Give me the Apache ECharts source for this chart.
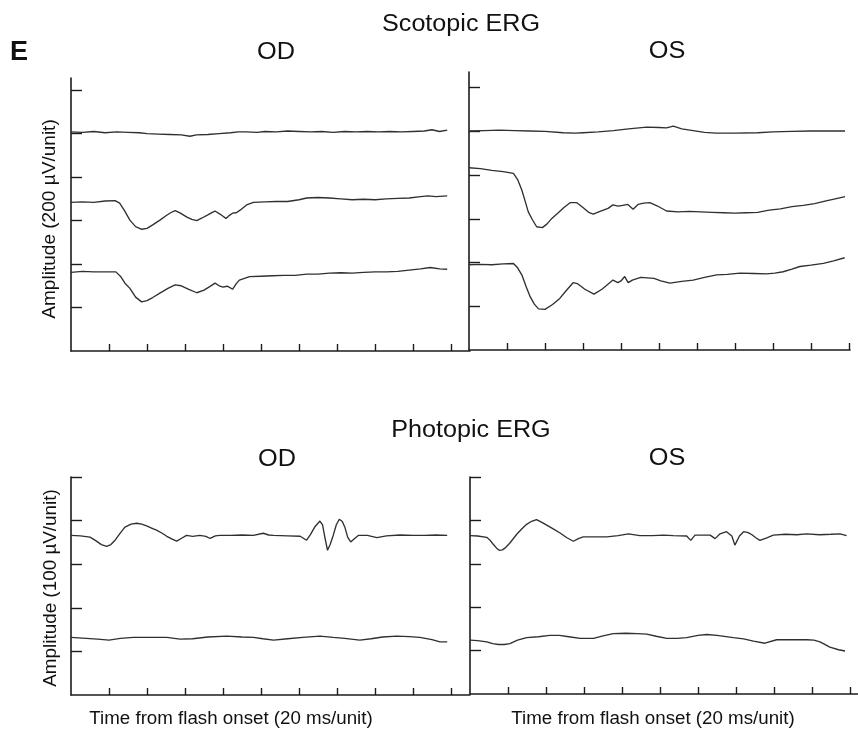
<!DOCTYPE html>
<html>
<head>
<meta charset="utf-8">
<script src="https://cdn.jsdelivr.net/npm/echarts@6/dist/echarts.min.js"></script>
<style>html,body{margin:0;padding:0;background:#fff}#c{width:858px;height:732px}</style>
</head>
<body>
<div id="c"></div>
<script>
// ---- Data (x in 20 ms units, y in amplitude units) ----
const xTicks = [1,2,3,4,5,6,7,8,9,10];
const scotYTicks = [1,2,3,4,5,6];
const photYTicks = [1,2,3,4,5];

const scotOD1 = [[0,5.04],[0.3,5.03],[0.6,5.05],[0.9,5.02],[1.2,5.04],[1.5,5.03],[1.8,5.02],[2.0,5.0],[2.3,4.99],[2.6,4.98],[2.9,4.97],[3.13,4.94],[3.3,4.97],[3.6,4.98],[3.9,5.0],[4.2,5.02],[4.4,5.04],[4.6,5.04],[4.9,5.03],[5.1,5.05],[5.4,5.04],[5.7,5.06],[6.0,5.05],[6.3,5.04],[6.6,5.05],[6.9,5.03],[7.2,5.05],[7.5,5.04],[7.8,5.05],[8.1,5.04],[8.4,5.05],[8.7,5.04],[9.0,5.05],[9.3,5.06],[9.5,5.09],[9.7,5.05],[9.9,5.08]];
const scotOD2 = [[0,3.42],[0.3,3.43],[0.6,3.42],[0.9,3.45],[1.16,3.46],[1.28,3.40],[1.4,3.24],[1.55,3.01],[1.7,2.86],[1.86,2.80],[2.0,2.82],[2.15,2.90],[2.34,3.01],[2.5,3.11],[2.62,3.18],[2.74,3.23],[2.88,3.17],[3.05,3.08],[3.18,3.03],[3.31,3.00],[3.45,3.06],[3.6,3.13],[3.72,3.19],[3.79,3.22],[3.92,3.15],[4.0,3.10],[4.08,3.05],[4.17,3.12],[4.25,3.17],[4.35,3.18],[4.45,3.24],[4.62,3.36],[4.8,3.42],[5.1,3.43],[5.4,3.44],[5.7,3.44],[6.0,3.48],[6.2,3.52],[6.5,3.53],[6.8,3.52],[7.1,3.50],[7.4,3.48],[7.7,3.49],[8.0,3.48],[8.3,3.50],[8.6,3.51],[8.9,3.52],[9.2,3.55],[9.4,3.57],[9.6,3.55],[9.9,3.57]];
const scotOD3 = [[0,1.81],[0.3,1.83],[0.6,1.82],[0.9,1.82],[1.18,1.82],[1.3,1.72],[1.42,1.56],[1.55,1.44],[1.7,1.24],[1.86,1.13],[2.0,1.16],[2.15,1.23],[2.34,1.33],[2.55,1.44],[2.74,1.52],[2.9,1.50],[3.1,1.42],[3.31,1.34],[3.5,1.40],[3.65,1.48],[3.79,1.56],[3.9,1.50],[4.0,1.47],[4.11,1.49],[4.18,1.46],[4.25,1.42],[4.35,1.55],[4.43,1.63],[4.7,1.71],[5.0,1.72],[5.3,1.73],[5.6,1.74],[5.9,1.74],[6.2,1.77],[6.5,1.77],[6.8,1.79],[7.1,1.80],[7.4,1.79],[7.7,1.81],[8.0,1.82],[8.3,1.82],[8.6,1.83],[8.9,1.86],[9.2,1.89],[9.45,1.92],[9.7,1.89],[9.9,1.88]];

const scotOS1 = [[0,5.01],[0.4,5.02],[0.8,5.03],[1.2,5.02],[1.6,5.01],[2.0,5.0],[2.48,4.97],[2.8,4.96],[3.0,4.97],[3.4,4.99],[3.8,5.02],[4.2,5.06],[4.68,5.10],[5.0,5.09],[5.2,5.08],[5.38,5.12],[5.6,5.06],[5.9,5.02],[6.2,4.98],[6.5,4.96],[7.0,4.96],[7.6,4.97],[8.0,4.99],[8.5,5.0],[9.0,5.01],[9.5,5.01],[9.9,5.01]];
const scotOS2 = [[0,4.17],[0.3,4.15],[0.6,4.11],[0.9,4.08],[1.17,4.04],[1.28,3.90],[1.39,3.66],[1.48,3.40],[1.56,3.16],[1.67,2.98],[1.78,2.82],[1.93,2.80],[2.05,2.88],[2.18,3.01],[2.35,3.14],[2.5,3.26],[2.66,3.37],[2.84,3.37],[3.0,3.26],[3.15,3.15],[3.27,3.11],[3.45,3.17],[3.66,3.24],[3.79,3.32],[3.92,3.29],[4.05,3.31],[4.18,3.33],[4.32,3.22],[4.45,3.33],[4.6,3.36],[4.76,3.37],[4.95,3.30],[5.2,3.18],[5.5,3.16],[5.8,3.17],[6.1,3.16],[6.4,3.15],[6.7,3.14],[7.0,3.13],[7.3,3.14],[7.6,3.15],[7.9,3.20],[8.2,3.23],[8.5,3.28],[8.8,3.31],[9.1,3.35],[9.4,3.41],[9.7,3.47],[9.9,3.51]];
const scotOS3 = [[0,1.95],[0.3,1.96],[0.6,1.95],[0.9,1.97],[1.17,1.98],[1.28,1.88],[1.39,1.72],[1.5,1.46],[1.61,1.22],[1.72,1.05],[1.83,0.94],[2.0,0.93],[2.2,1.04],[2.39,1.18],[2.55,1.35],[2.74,1.54],[2.85,1.52],[3.05,1.39],[3.29,1.28],[3.5,1.39],[3.65,1.50],[3.79,1.60],[3.92,1.54],[4.0,1.58],[4.1,1.68],[4.19,1.54],[4.3,1.60],[4.52,1.66],[4.87,1.64],[5.05,1.58],[5.29,1.53],[5.6,1.57],[5.9,1.60],[6.2,1.66],[6.52,1.72],[6.8,1.73],[7.13,1.76],[7.5,1.75],[7.83,1.74],[8.05,1.76],[8.27,1.79],[8.5,1.85],[8.71,1.91],[9.0,1.94],[9.33,1.98],[9.6,2.04],[9.89,2.11]];

const photOD1 = [[0,3.66],[0.25,3.65],[0.5,3.62],[0.65,3.54],[0.8,3.45],[0.94,3.41],[1.05,3.45],[1.16,3.55],[1.3,3.72],[1.42,3.85],[1.58,3.92],[1.73,3.94],[1.86,3.92],[1.99,3.88],[2.12,3.83],[2.25,3.78],[2.4,3.71],[2.52,3.64],[2.65,3.58],[2.78,3.53],[2.9,3.59],[3.04,3.66],[3.2,3.64],[3.39,3.66],[3.55,3.64],[3.66,3.59],[3.8,3.65],[3.92,3.66],[4.2,3.66],[4.5,3.67],[4.8,3.66],[5.06,3.71],[5.2,3.67],[5.33,3.66],[5.7,3.65],[6.03,3.64],[6.2,3.55],[6.3,3.68],[6.42,3.86],[6.55,3.99],[6.62,3.90],[6.68,3.62],[6.75,3.32],[6.82,3.45],[6.9,3.66],[6.98,3.90],[7.06,4.03],[7.14,3.98],[7.21,3.84],[7.28,3.62],[7.36,3.51],[7.45,3.58],[7.56,3.66],[7.8,3.66],[8.05,3.61],[8.3,3.65],[8.66,3.67],[9.0,3.66],[9.3,3.66],[9.6,3.67],[9.9,3.66]];
const photOD2 = [[0,1.32],[0.4,1.30],[0.7,1.28],[1.0,1.26],[1.3,1.30],[1.64,1.32],[2.0,1.32],[2.52,1.32],[2.87,1.28],[3.2,1.29],[3.6,1.33],[4.1,1.35],[4.5,1.33],[4.8,1.32],[5.05,1.29],[5.33,1.26],[5.7,1.29],[6.1,1.32],[6.55,1.35],[6.9,1.32],[7.2,1.30],[7.6,1.26],[7.9,1.29],[8.2,1.33],[8.57,1.35],[8.9,1.34],[9.18,1.32],[9.5,1.27],[9.71,1.22],[9.9,1.22]];

const photOS1 = [[0,3.65],[0.2,3.64],[0.44,3.61],[0.52,3.55],[0.61,3.45],[0.7,3.36],[0.77,3.31],[0.85,3.32],[0.92,3.36],[1.05,3.48],[1.23,3.68],[1.36,3.80],[1.49,3.91],[1.62,3.98],[1.75,4.02],[1.88,3.96],[2.02,3.89],[2.2,3.80],[2.37,3.71],[2.55,3.60],[2.72,3.52],[2.85,3.58],[2.98,3.62],[3.3,3.62],[3.6,3.62],[3.9,3.65],[4.17,3.69],[4.47,3.65],[4.8,3.65],[5.1,3.66],[5.35,3.65],[5.7,3.64],[5.81,3.54],[5.92,3.66],[6.1,3.66],[6.32,3.66],[6.45,3.58],[6.58,3.69],[6.75,3.74],[6.89,3.64],[6.97,3.43],[7.09,3.64],[7.2,3.74],[7.32,3.72],[7.42,3.67],[7.52,3.60],[7.63,3.54],[7.81,3.60],[7.98,3.66],[8.3,3.68],[8.6,3.67],[8.86,3.69],[9.2,3.67],[9.5,3.68],[9.74,3.69],[9.91,3.65]];
const photOS2 = [[0,1.24],[0.2,1.23],[0.44,1.20],[0.6,1.16],[0.75,1.14],[0.9,1.14],[1.05,1.16],[1.25,1.24],[1.49,1.30],[1.8,1.32],[2.1,1.35],[2.35,1.35],[2.6,1.32],[2.9,1.28],[3.25,1.28],[3.5,1.34],[3.77,1.39],[4.1,1.40],[4.4,1.39],[4.65,1.38],[4.9,1.33],[5.18,1.28],[5.45,1.28],[5.7,1.30],[6.0,1.35],[6.23,1.37],[6.5,1.35],[6.93,1.30],[7.2,1.27],[7.46,1.22],[7.76,1.17],[8.07,1.25],[8.4,1.25],[8.86,1.25],[9.05,1.24],[9.21,1.20],[9.47,1.08],[9.7,1.02],[9.87,0.99]];

// ---- Chart ----
const chart = echarts.init(document.getElementById('c'), null, {renderer: 'canvas'});
const AX = '#1c1c1c';
const TR = '#303030';
const FONT = '"Liberation Sans", Arial, sans-serif';

const grids = [
  {left: 71, top: 78, width: 399, height: 273},
  {left: 469, top: 72, width: 381, height: 278},
  {left: 71, top: 477, width: 399, height: 218},
  {left: 470, top: 477, width: 388, height: 217}
];
const xMax = [10.5, 10.03, 10.5, 10.21];
const yMax = [6.28, 6.36, 5, 5];
const yTk = [scotYTicks, scotYTicks, photYTicks, photYTicks];

function xAx(i) {
  return {
    type: 'value', gridIndex: i, min: 0, max: xMax[i],
    axisLine: {show: true, lineStyle: {color: AX, width: 1.6}},
    axisTick: {show: true, inside: true, length: 7, customValues: xTicks, lineStyle: {color: AX, width: 1.4}},
    axisLabel: {show: false}, splitLine: {show: false}
  };
}
function yAx(i) {
  return {
    type: 'value', gridIndex: i, min: 0, max: yMax[i],
    axisLine: {show: true, lineStyle: {color: AX, width: 1.6}},
    axisTick: {show: true, inside: true, length: 11, customValues: yTk[i], lineStyle: {color: AX, width: 1.4}},
    axisLabel: {show: false}, splitLine: {show: false}
  };
}
function ln(data, i) {
  return {
    type: 'line', xAxisIndex: i, yAxisIndex: i, data: data,
    showSymbol: false, symbol: 'none', smooth: false,
    lineStyle: {color: TR, width: 1.35}, silent: true
  };
}
function txt(s, x, y, size, opts) {
  opts = opts || {};
  return {
    type: 'text', x: x, y: y, rotation: opts.rot || 0,
    scaleX: opts.sx || 1,
    style: {text: s, font: (opts.bold ? 'bold ' : '') + size + 'px ' + FONT,
      fill: '#111', align: 'center', verticalAlign: 'middle'}
  };
}

chart.setOption({
  backgroundColor: '#ffffff',
  animation: false,
  grid: grids,
  xAxis: [0,1,2,3].map(xAx),
  yAxis: [0,1,2,3].map(yAx),
  series: [
    ln(scotOD1, 0), ln(scotOD2, 0), ln(scotOD3, 0),
    ln(scotOS1, 1), ln(scotOS2, 1), ln(scotOS3, 1),
    ln(photOD1, 2), ln(photOD2, 2),
    ln(photOS1, 3), ln(photOS2, 3)
  ],
  graphic: [
    txt('E', 19, 53, 27, {bold: true}),
    txt('Scotopic ERG', 461, 25, 23.5, {sx: 1.07}),
    txt('OD', 276, 53, 23, {sx: 1.1}),
    txt('OS', 667, 52, 23, {sx: 1.1}),
    txt('Photopic ERG', 471, 431, 23.5, {sx: 1.07}),
    txt('OD', 277, 460, 23, {sx: 1.1}),
    txt('OS', 667, 459, 23, {sx: 1.1}),
    txt('Amplitude (200 µV/unit)', 50, 219, 18.5, {rot: Math.PI / 2, sx: 1.03}),
    txt('Amplitude (100 µV/unit)', 51, 588, 18.5, {rot: Math.PI / 2, sx: 1.02}),
    txt('Time from flash onset (20 ms/unit)', 231, 719, 17.5, {sx: 1.07}),
    txt('Time from flash onset (20 ms/unit)', 653, 719, 17.5, {sx: 1.07})
  ]
});
</script>
</body>
</html>
